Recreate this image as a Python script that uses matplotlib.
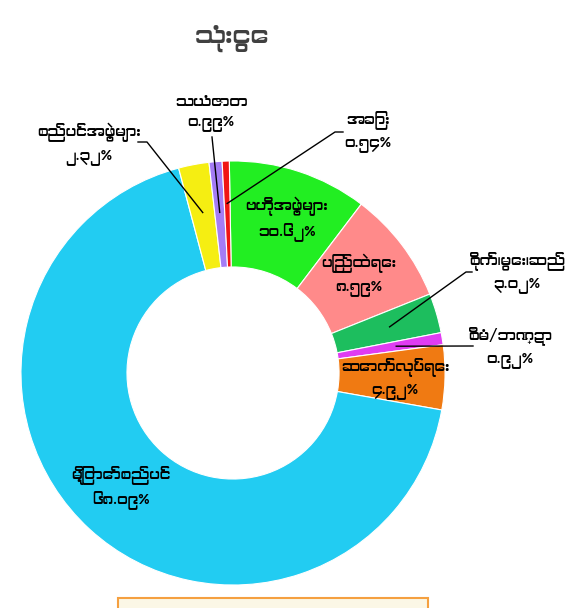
import numpy as np
import matplotlib.pyplot as plt
from matplotlib import font_manager as fm
from matplotlib.patches import Rectangle

# font with Myanmar glyphs if one is installed
my_fonts = [f.name for f in fm.fontManager.ttflist
            if 'myanmar' in f.name.lower() or 'padauk' in f.name.lower()]
plt.rcParams['font.family'] = list(dict.fromkeys(my_fonts)) + ['DejaVu Sans']

title = 'သုံးငွေ'

# clockwise from 12 o'clock
names = ['ဗဟိုအဖွဲ့များ', 'ပြည်ထဲရေး', 'စိုက်၊မွေး၊ဆည်', 'စီမံ/ဘဏ္ဍာ',
         'ဆောက်လုပ်ရေး', 'မြို့တော်စည်ပင်', 'စည်ပင်အဖွဲ့များ', 'သယံဇာတ', 'အခြား']
values = [10.62, 8.59, 3.02, 0.92, 4.92, 68.09, 2.32, 0.99, 0.54]
pct_labels = ['၁၀.၆၂%', '၈.၅၉%', '၃.၀၂%', '၀.၉၂%', '၄.၉၂%',
              '၆၈.၀၉%', '၂.၃၂%', '၀.၉၉%', '၀.၅၄%']
colors = ['#22EE22', '#FF8A8A', '#1DBE5E', '#E03CF2', '#F07A12',
          '#22CCF2', '#F5EE12', '#A47CF5', '#F01414']

W, H = 573, 608
fig = plt.figure(figsize=(W / 100, H / 100), dpi=100)
ax = fig.add_axes([0, 0, 1, 1])

cx, cy, R = 233, H - 373, 212
explode = [0.02, 0.02, 0.03, 0.04, 0.06, 0.04, 0.05, 0.03, 0.05]
wedges, _ = ax.pie(values, colors=colors, startangle=91, counterclock=False,
                   center=(cx, cy), radius=R, explode=explode,
                   wedgeprops=dict(width=R * 0.5, edgecolor='white', linewidth=0.8))
ax.set_xlim(0, W)
ax.set_ylim(0, H)
ax.axis('off')


def wedge_point(i, frac):
    w = wedges[i]
    ang = np.deg2rad((w.theta1 + w.theta2) / 2)
    r = w.r * frac
    x0, y0 = w.center
    return x0 + r * np.cos(ang), y0 + r * np.sin(ang)


fig.text(232 / W, 1 - 38 / H, title, ha='center', va='center', fontsize=18,
         fontweight='bold', color='#404040')

fs = 10.5
# labels inside the ring
inside = {0: (287, 219), 1: (359, 275), 4: (395, 378), 5: (121, 487)}
for i, (x, y) in inside.items():
    ax.text(x, H - y, names[i] + '\n' + pct_labels[i], ha='center', va='center',
            fontsize=fs, linespacing=1.5)

# labels outside with leader lines: label pos, line start, elbow x, frac of radius
outside = {
    2: ((517, 272), (472, 272), 466, 0.77),
    3: ((510, 347), (473, 346), None, 0.78),
    6: ((89, 144), (138, 142), 147, 0.77),
    7: ((211, 113), (212, 137), None, 0.76),
    8: ((368, 131), (343, 132), 335, 0.80),
}
for i, ((x, y), (lx, ly), hx, fr) in outside.items():
    ax.text(x, H - y, names[i] + '\n' + pct_labels[i], ha='center', va='center',
            fontsize=fs, linespacing=1.5)
    px, py = wedge_point(i, fr)
    if hx is not None:
        ax.plot([lx, hx, px], [H - ly, H - ly, py], color='black', lw=1)
    else:
        ax.plot([lx, px], [H - ly, py], color='black', lw=1)

# legend box, cut by the bottom edge
fig.patches.append(Rectangle((118 / W, -0.05), 310 / W, 0.05 + 10 / H,
                             transform=fig.transFigure, facecolor='#FBF7E6',
                             edgecolor='#F5A040', linewidth=1.5))

fig.savefig('out.png', dpi=100)
